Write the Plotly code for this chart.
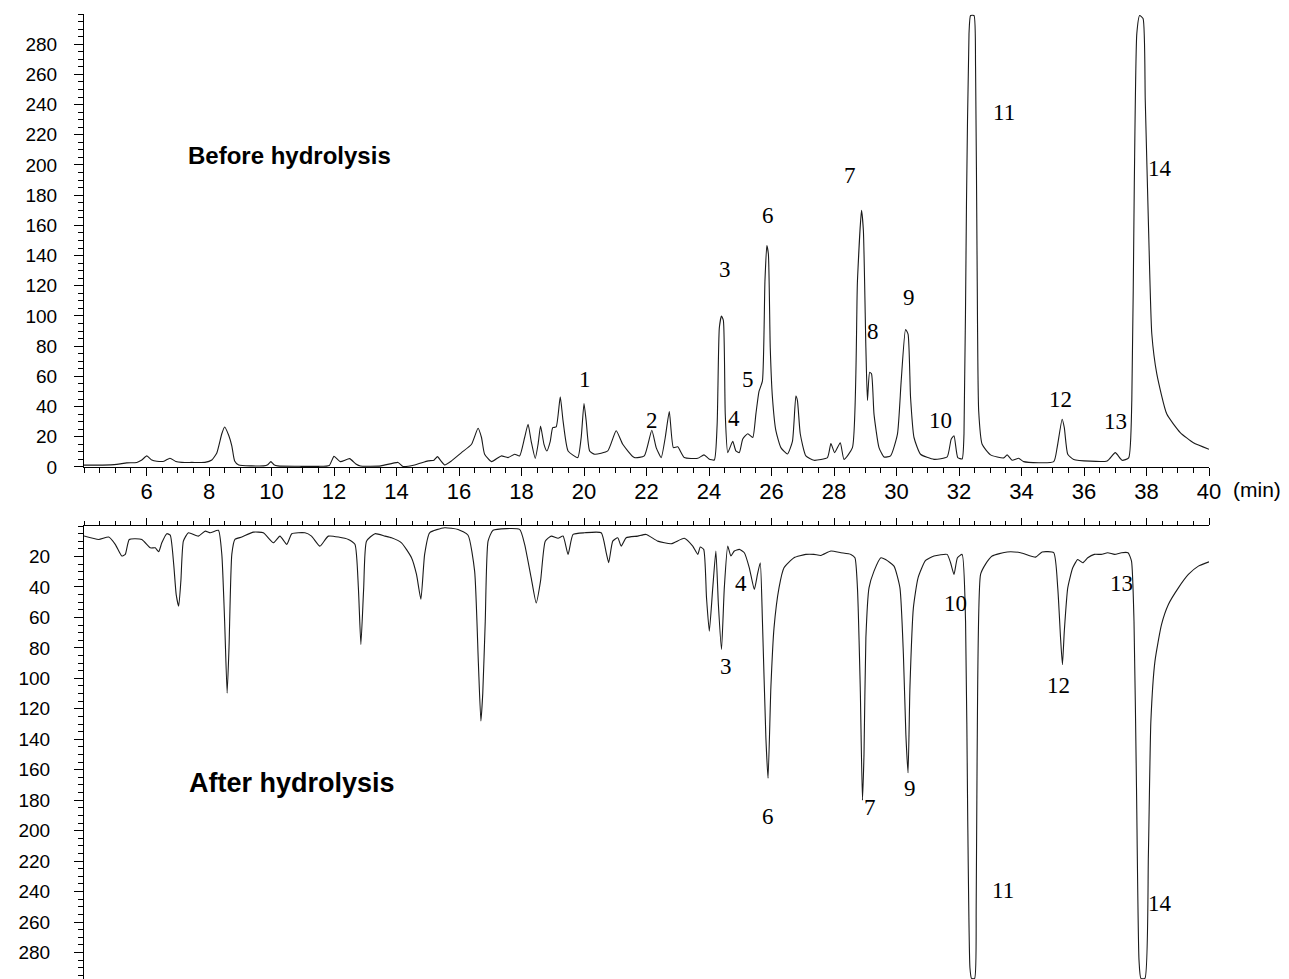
import plotly.graph_objects as go

# ---------------- data ----------------
top_time = [4.0, 4.6, 5.05, 5.37, 5.69, 5.85, 6.01, 6.17, 6.33, 6.56, 6.75, 6.94, 7.13, 7.45, 7.87,
            8.09, 8.25, 8.41, 8.5, 8.63, 8.73, 8.82, 8.95, 9.37, 9.75, 9.88, 9.98, 10.08, 10.2, 10.96,
            11.5, 11.85, 12.0, 12.2, 12.5, 12.7, 12.85, 13.5, 14.05, 14.21, 14.58, 15.01, 15.2, 15.31,
            15.42, 15.54, 15.76, 16.08, 16.4, 16.61, 16.72, 16.82, 17.04, 17.35, 17.57, 17.78, 17.94,
            18.1, 18.21, 18.31, 18.44, 18.53, 18.61, 18.72, 18.81, 18.92, 19.0, 19.11, 19.24, 19.33,
            19.49, 19.8, 19.91, 20.0, 20.07, 20.18, 20.34, 20.76, 21.03, 21.24, 21.61, 21.93, 22.17,
            22.31, 22.47, 22.6, 22.73, 22.86, 23.0, 23.21, 23.64, 23.84, 24.0, 24.17, 24.26, 24.33,
            24.4, 24.46, 24.52, 24.6, 24.76, 24.86, 24.97, 25.08, 25.24, 25.4, 25.5, 25.6, 25.71,
            25.79, 25.85, 25.9, 25.96, 26.03, 26.14, 26.3, 26.51, 26.67, 26.78, 26.83, 26.92, 27.1,
            27.36, 27.79, 27.9, 28.02, 28.2, 28.32, 28.59, 28.75, 28.88, 28.94, 29.02, 29.07, 29.14,
            29.2, 29.28, 29.44, 29.6, 29.81, 30.03, 30.15, 30.29, 30.37, 30.45, 30.56, 30.77, 31.2,
            31.62, 31.75, 31.84, 31.96, 32.1, 32.16, 32.24, 32.32, 32.37, 32.48, 32.53, 32.58, 32.63,
            32.74, 33.01, 33.43, 33.54, 33.7, 33.91, 34.07, 35.03, 35.14, 35.3, 35.37, 35.48, 35.67,
            36.74, 37.0, 37.22, 37.43, 37.53, 37.61, 37.69, 37.78, 37.89, 37.96, 38.07, 38.17, 38.33,
            38.65, 39.08, 39.5, 40.0]
top_signal = [1.2, 1.2, 1.7, 2.7, 3.0, 4.6, 7.3, 4.6, 3.8, 3.8, 5.8, 3.6, 3.0, 3.0, 3.0,
              4.6, 9.3, 22, 26.5, 21, 14, 4, 1.3, 0.7, 0.7, 1.5, 3.5, 1.5, 0.7, 0.4,
              0.4, 1.0, 7, 3.5, 5.5, 2, 0.6, 0.7, 3, 0.3, 1.3, 4.0, 4.5, 6.8,
              4, 1.3, 4, 9.5, 15, 25.6, 19.5, 8.4, 3.5, 7.3, 6.2, 8.4, 7.3,
              19.5, 28.3, 17, 5.7, 15, 27, 15, 10.6, 17, 26, 26.5, 46.4, 30.5,
              10.6, 6.2, 19.5, 42, 30.5, 10.6, 8.4, 10.6, 24, 15, 6.2, 7.3, 24.3,
              12.8, 6.2, 19.5, 36.7, 12.8, 13.3, 6.2, 5.7, 8, 5.3, 4.6, 28, 92,
              100, 97, 35, 9.5, 17, 10.6, 9.5, 18.5, 22, 19.5, 35, 50, 57,
              123, 146.6, 141, 79, 46, 24, 12.8, 8.6, 17, 47, 44, 22, 7.3,
              4.4, 6.2, 15.5, 9.5, 16, 5, 12.8, 123, 170, 156.6, 79, 44, 62.6,
              61.7, 35, 12.8, 6.6, 7.3, 21.7, 57, 91, 88, 46, 19.5, 8.4, 5,
              6.6, 18.4, 20.6, 6.2, 5.3, 22, 176, 287, 299, 299, 265, 132, 37,
              15, 8, 6, 8, 4.4, 5.7, 3.5, 3.5, 12.8, 31.6, 26, 8.4, 5,
              4, 9.5, 4.4, 6, 44, 188, 287, 299, 297, 243, 154.6, 88, 61.6,
              35, 22.8, 16, 11.7]

bottom_time = [4.0, 4.47, 4.79, 5.0, 5.21, 5.32, 5.45, 5.85, 6.12, 6.28, 6.39, 6.49, 6.65, 6.76,
               6.87, 6.95, 7.03, 7.1, 7.18, 7.34, 7.66, 7.88, 8.04, 8.3, 8.41, 8.5, 8.58, 8.64, 8.73,
               8.83, 9.05, 9.42, 9.74, 10.06, 10.27, 10.49, 10.65, 11.07, 11.28, 11.55, 11.82, 12.46,
               12.67, 12.78, 12.86, 12.95, 13.04, 13.31, 13.63, 13.84, 14.16, 14.48, 14.64, 14.78,
               14.9, 15.06, 15.54, 15.97, 16.29, 16.5, 16.62, 16.7, 16.76, 16.84, 16.93, 17.09, 17.94,
               18.1, 18.31, 18.47, 18.61, 18.76, 18.95, 19.17, 19.33, 19.49, 19.65, 20.02, 20.55,
               20.71, 20.79, 20.92, 21.08, 21.19, 21.35, 21.72, 21.99, 22.36, 22.79, 23.21, 23.48,
               23.64, 23.72, 23.83, 23.92, 24.01, 24.12, 24.22, 24.3, 24.4, 24.49, 24.6, 24.7, 24.81,
               24.97, 25.13, 25.29, 25.45, 25.55, 25.64, 25.71, 25.82, 25.89, 25.98, 26.08, 26.24,
               26.4, 26.72, 27.1, 27.36, 27.58, 27.9, 28.22, 28.54, 28.67, 28.75, 28.84, 28.91, 28.96,
               29.02, 29.12, 29.28, 29.5, 29.65, 29.92, 30.11, 30.22, 30.3, 30.37, 30.43, 30.54,
               30.69, 30.93, 31.2, 31.62, 31.73, 31.84, 31.95, 32.1, 32.21, 32.28, 32.35, 32.4, 32.5,
               32.55, 32.58, 32.69, 32.85, 33.06, 33.54, 33.97, 34.45, 34.66, 35.03, 35.16, 35.25,
               35.31, 35.37, 35.48, 35.64, 35.8, 35.96, 36.12, 36.33, 36.55, 36.76, 36.98, 37.2,
               37.41, 37.52, 37.6, 37.68, 37.76, 37.82, 37.95, 38.06, 38.14, 38.27, 38.48, 38.7,
               39.02, 39.34, 39.66, 40.0]
bottom_signal = [6.5, 8.8, 7.2, 12, 19.7, 18.6, 8.8, 8.8, 14.3, 14.3, 16.9, 11, 5, 6,
                 25, 45, 52.6, 36, 9.9, 4.4, 6.6, 3.3, 4.4, 2.8, 18.6, 62.5, 109.7, 80, 18.6,
                 8.8, 7.2, 4, 4.4, 11, 6.6, 12, 5, 4.4, 6.6, 13.2, 6.6, 8.8,
                 12, 40.6, 77.8, 40.6, 9.9, 5, 6.6, 7.7, 11, 20.8, 31.8, 48,
                 18.6, 4.4, 1.1, 2.2, 6, 29.6, 90, 128, 110, 62.5, 9.9, 2.8, 2.2,
                 12, 34, 50.5, 36, 9.9, 6.6, 8, 6.6, 18.6, 5.5, 4.4, 4.4,
                 17.5, 24, 9.9, 7.7, 13.2, 7.7, 6.6, 5.5, 9.9, 11.6, 8, 13.2,
                 18.6, 13.8, 15.3, 47, 69, 40.6, 16.4, 51.5, 81, 40.6, 13.2, 19.7, 16.4,
                 15.3, 17.5, 27.4, 41.7, 31.8, 24.1, 62.5, 139, 165.6, 106, 67, 40.6,
                 27.4, 20.8, 18.6, 18.6, 19.3, 16.4, 17.5, 18.6, 20.8, 40.6, 106, 180, 150,
                 73.5, 40.6, 29.6, 20.8, 22, 26.3, 40.6, 84, 137, 162, 106, 53.7,
                 34, 22.6, 19.7, 18.6, 24.1, 31.8, 20.8, 18.6, 62.5, 194, 290, 297, 297,
                 250, 150, 31.8, 25, 19.7, 17, 17.5, 20.4, 17, 17.5, 40.6, 73.5,
                 91, 69, 40.6, 27.4, 22, 24.1, 20.8, 18.6, 18.6, 17.5, 18.6, 17.5,
                 17.5, 23, 62.5, 172, 285, 297, 297, 216, 128, 88.8, 64.7, 51.5,
                 40.6, 31.8, 26.3, 23.5]

x_tick_values = [6, 8, 10, 12, 14, 16, 18, 20, 22, 24, 26, 28, 30, 32, 34, 36, 38, 40]
top_y_ticks = [0, 20, 40, 60, 80, 100, 120, 140, 160, 180, 200, 220, 240, 260, 280]
bottom_y_ticks = [20, 40, 60, 80, 100, 120, 140, 160, 180, 200, 220, 240, 260, 280]

top_peak_labels = ["1", "2", "3", "4", "5", "6", "7", "8", "9", "10", "11", "12", "13", "14"]
top_peak_t = [20.04, 22.18, 24.51, 24.8, 25.25, 25.88, 28.5, 29.24, 30.39, 31.41, 33.43, 35.25, 37.0, 38.44]
top_peak_y = [58, 30.5, 131, 32, 58, 166.6, 193, 90, 112, 30.5, 235, 45, 30, 198]

bottom_peak_labels = ["4", "3", "6", "7", "9", "10", "11", "12", "13", "14"]
bottom_peak_t = [25.02, 24.54, 25.88, 29.14, 30.42, 31.89, 33.4, 35.18, 37.2, 38.44]
bottom_peak_y = [38, 92, 191, 185, 172, 50.7, 239, 105, 37.5, 248]

panel_titles = ["Before hydrolysis", "After hydrolysis"]

# ---------------- figure ----------------
W, H = 1281, 984
ML, MR, MT, MB = 76, 80, 6, 0
top_dom = [513 / 965, 1.0]
bot_dom = [0.0, 454 / 965]

line_style = dict(color="#1a1a1a", width=1.1, shape="spline", smoothing=0.5)

fig = go.Figure()
fig.add_trace(go.Scatter(x=top_time, y=top_signal, mode="lines", line=line_style,
                         xaxis="x", yaxis="y", hoverinfo="skip", showlegend=False))
fig.add_trace(go.Scatter(x=bottom_time, y=bottom_signal, mode="lines", line=line_style,
                         xaxis="x2", yaxis="y2", hoverinfo="skip", showlegend=False))
# small arrow marker at the origin of the lower panel
fig.add_trace(go.Scatter(x=[3.9], y=[0], mode="markers", xaxis="x2", yaxis="y2",
                         marker=dict(symbol="triangle-left", size=7, color="black"),
                         cliponaxis=False, hoverinfo="skip", showlegend=False))

sans = "Liberation Sans, Arial, sans-serif"
serif = "Liberation Serif, Times New Roman, serif"

axis_common = dict(showgrid=False, zeroline=False, showline=True, linecolor="black",
                   linewidth=1, tickcolor="black", tickwidth=1)

fig.update_layout(
    width=W, height=H,
    margin=dict(l=ML, r=MR, t=MT, b=MB, pad=0),
    paper_bgcolor="white", plot_bgcolor="white",
    xaxis=dict(domain=[0, 1], anchor="y", range=[4, 40], tickmode="array",
               tickvals=x_tick_values, ticktext=[str(v) for v in x_tick_values],
               ticks="outside", ticklen=8, ticklabelstandoff=-3,
               tickfont=dict(family=sans, size=22, color="black"),
               minor=dict(ticks="outside", ticklen=5, tick0=4, dtick=0.5,
                          tickcolor="black", showgrid=False),
               **axis_common),
    yaxis=dict(domain=top_dom, anchor="x", range=[0, 300], tickmode="array",
               tickvals=top_y_ticks, ticks="outside", ticklen=9, ticklabelstandoff=13,
               tickfont=dict(family=sans, size=19, color="black"),
               minor=dict(ticks="outside", ticklen=5, tick0=0, dtick=5,
                          tickcolor="black", showgrid=False),
               **axis_common),
    xaxis2=dict(domain=[0, 1], anchor="y2", side="top", range=[4, 40], tickmode="array",
                tickvals=x_tick_values, showticklabels=False,
                ticks="outside", ticklen=7,
                minor=dict(ticks="outside", ticklen=4, tick0=4, dtick=0.5,
                           tickcolor="black", showgrid=False),
                **axis_common),
    yaxis2=dict(domain=bot_dom, anchor="x2", range=[298.7, 0], tickmode="array",
                tickvals=bottom_y_ticks, ticks="outside", ticklen=9, ticklabelstandoff=20,
                tickfont=dict(family=sans, size=19, color="black"),
                minor=dict(ticks="outside", ticklen=5, tick0=0, dtick=5,
                           tickcolor="black", showgrid=False),
                **axis_common),
)

annotations = []
for txt, t, y in zip(top_peak_labels, top_peak_t, top_peak_y):
    annotations.append(dict(x=t, y=y, xref="x", yref="y", text=txt, showarrow=False,
                            xanchor="center", yanchor="middle",
                            font=dict(family=serif, size=23, color="black")))
for txt, t, y in zip(bottom_peak_labels, bottom_peak_t, bottom_peak_y):
    annotations.append(dict(x=t, y=y, xref="x2", yref="y2", text=txt, showarrow=False,
                            xanchor="center", yanchor="middle",
                            font=dict(family=serif, size=23, color="black")))
annotations.append(dict(x=7.27, y=206, xref="x", yref="y", text="<b>" + panel_titles[0] + "</b>",
                        showarrow=False, xanchor="left", yanchor="middle",
                        font=dict(family=sans, size=24, color="black")))
annotations.append(dict(x=7.3, y=169, xref="x2", yref="y2", text="<b>" + panel_titles[1] + "</b>",
                        showarrow=False, xanchor="left", yanchor="middle",
                        font=dict(family=sans, size=27, color="black")))
annotations.append(dict(x=40, y=0, xref="x", yref="y", text="(min)", showarrow=False,
                        xanchor="left", yanchor="middle", xshift=22, yshift=-23,
                        font=dict(family=sans, size=21, color="black")))
fig.update_layout(annotations=annotations)

fig.write_html("out.html")
